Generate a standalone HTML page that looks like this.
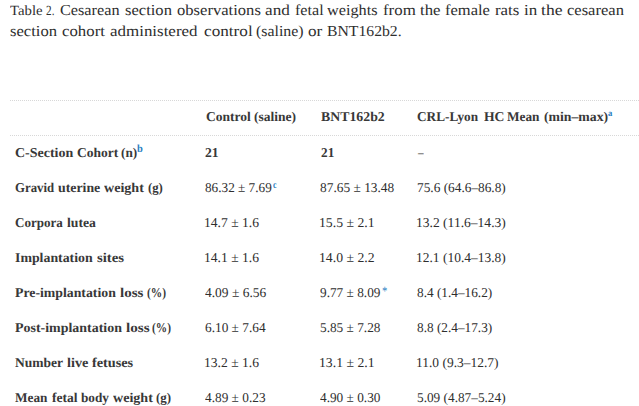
<!DOCTYPE html>
<html><head><meta charset="utf-8"><title>Table 2</title>
<style>
html,body{margin:0;padding:0;background:#fff;}
body{width:639px;height:406px;overflow:hidden;font-family:"Liberation Serif",serif;color:#2e2e2e;position:relative;}
span{position:absolute;white-space:pre;line-height:20px;transform-origin:0 0;text-rendering:geometricPrecision;}
.bd{position:absolute;left:10px;width:629px;height:0;border-top:1px dotted #d8d8d8;}
</style></head><body>
<div class="bd" style="top:100px"></div>
<div class="bd" style="top:135px"></div>
<span style="left:9.50px;top:2px;font-size:14px;transform:scaleX(1.0561);">Table</span>
<span style="left:45.80px;top:2px;font-size:14px;transform:scaleX(0.8000);">2</span>
<span style="left:51.90px;top:2px;font-size:14px;transform:scaleX(0.6667);">.</span>
<span style="left:60.10px;top:1px;font-size:15.3px;transform:scaleX(1.0619);">Cesarean</span>
<span style="left:125.00px;top:1px;font-size:15.3px;transform:scaleX(1.0829);">section</span>
<span style="left:176.50px;top:1px;font-size:15.3px;transform:scaleX(1.0844);">observations</span>
<span style="left:265.30px;top:1px;font-size:15.3px;transform:scaleX(1.1231);">and</span>
<span style="left:294.80px;top:1px;font-size:15.3px;transform:scaleX(1.0549);">fetal</span>
<span style="left:327.40px;top:1px;font-size:15.3px;transform:scaleX(1.0623);">weights</span>
<span style="left:383.00px;top:1px;font-size:15.3px;transform:scaleX(1.1027);">from</span>
<span style="left:420.30px;top:1px;font-size:15.3px;transform:scaleX(1.0953);">the</span>
<span style="left:445.40px;top:1px;font-size:15.3px;transform:scaleX(1.0784);">female</span>
<span style="left:494.70px;top:1px;font-size:15.3px;transform:scaleX(1.1024);">rats</span>
<span style="left:523.60px;top:1px;font-size:15.3px;transform:scaleX(1.1102);">in</span>
<span style="left:541.10px;top:1px;font-size:15.3px;transform:scaleX(1.1482);">the</span>
<span style="left:566.70px;top:1px;font-size:15.3px;transform:scaleX(1.0812);">cesarean</span>
<span style="left:9.80px;top:22px;font-size:15.3px;transform:scaleX(1.0874);">section</span>
<span style="left:61.80px;top:22px;font-size:15.3px;transform:scaleX(1.0972);">cohort</span>
<span style="left:110.10px;top:22px;font-size:15.3px;transform:scaleX(1.1076);">administered</span>
<span style="left:203.90px;top:22px;font-size:15.3px;transform:scaleX(1.1235);">control</span>
<span style="left:256.00px;top:22px;font-size:15.3px;transform:scaleX(1.0377);">(saline)</span>
<span style="left:307.70px;top:22px;font-size:15.3px;transform:scaleX(1.1227);">or</span>
<span style="left:327.20px;top:22px;font-size:15.3px;transform:scaleX(1.0273);">BNT162b2.</span>
<span style="left:205.80px;top:107px;font-size:13.5px;transform:scaleX(1.0022);font-weight:bold;color:#383838;">Control</span>
<span style="left:254.30px;top:107px;font-size:13.5px;transform:scaleX(1.0024);font-weight:bold;color:#383838;">(saline)</span>
<span style="left:321.00px;top:107px;font-size:13.5px;transform:scaleX(1.0237);font-weight:bold;color:#383838;">BNT162b2</span>
<span style="left:417.30px;top:107px;font-size:13.5px;transform:scaleX(0.9815);font-weight:bold;color:#383838;">CRL-Lyon</span>
<span style="left:483.50px;top:107px;font-size:13.5px;transform:scaleX(1.0102);font-weight:bold;color:#383838;">HC</span>
<span style="left:507.30px;top:107px;font-size:13.5px;transform:scaleX(0.9855);font-weight:bold;color:#383838;">Mean</span>
<span style="left:543.80px;top:107px;font-size:13.5px;transform:scaleX(1.0177);font-weight:bold;color:#383838;">(min–max)</span>
<span style="left:15.10px;top:143px;font-size:13.5px;transform:scaleX(1.0347);font-weight:bold;color:#383838;">C-Section</span>
<span style="left:77.30px;top:143px;font-size:13.5px;transform:scaleX(1.0012);font-weight:bold;color:#383838;">Cohort</span>
<span style="left:121.20px;top:143px;font-size:13.5px;transform:scaleX(0.9810);font-weight:bold;color:#383838;">(n)</span>
<span style="left:15.10px;top:178px;font-size:13.5px;transform:scaleX(0.9487);font-weight:bold;color:#383838;">Gravid</span>
<span style="left:58.20px;top:178px;font-size:13.5px;transform:scaleX(1.0231);font-weight:bold;color:#383838;">uterine</span>
<span style="left:103.90px;top:178px;font-size:13.5px;transform:scaleX(1.0426);font-weight:bold;color:#383838;">weight</span>
<span style="left:147.80px;top:178px;font-size:13.5px;transform:scaleX(0.9445);font-weight:bold;color:#383838;">(g)</span>
<span style="left:15.10px;top:213px;font-size:13.5px;transform:scaleX(0.9670);font-weight:bold;color:#383838;">Corpora</span>
<span style="left:66.70px;top:213px;font-size:13.5px;transform:scaleX(1.0158);font-weight:bold;color:#383838;">lutea</span>
<span style="left:15.10px;top:248px;font-size:13.5px;transform:scaleX(1.0255);font-weight:bold;color:#383838;">Implantation</span>
<span style="left:96.80px;top:248px;font-size:13.5px;transform:scaleX(1.0942);font-weight:bold;color:#383838;">sites</span>
<span style="left:15.10px;top:283px;font-size:13.5px;transform:scaleX(1.0208);font-weight:bold;color:#383838;">Pre-implantation</span>
<span style="left:119.90px;top:283px;font-size:13.5px;transform:scaleX(1.1130);font-weight:bold;color:#383838;">loss</span>
<span style="left:146.50px;top:283px;font-size:13.5px;transform:scaleX(0.8456);font-weight:bold;color:#383838;">(%)</span>
<span style="left:15.10px;top:318px;font-size:13.5px;transform:scaleX(1.0327);font-weight:bold;color:#383838;">Post-implantation</span>
<span style="left:125.80px;top:318px;font-size:13.5px;transform:scaleX(1.1227);font-weight:bold;color:#383838;">loss</span>
<span style="left:152.40px;top:318px;font-size:13.5px;transform:scaleX(0.8411);font-weight:bold;color:#383838;">(%)</span>
<span style="left:15.10px;top:353px;font-size:13.5px;transform:scaleX(1.0020);font-weight:bold;color:#383838;">Number</span>
<span style="left:67.20px;top:353px;font-size:13.5px;transform:scaleX(1.0518);font-weight:bold;color:#383838;">live</span>
<span style="left:92.00px;top:353px;font-size:13.5px;transform:scaleX(1.0558);font-weight:bold;color:#383838;">fetuses</span>
<span style="left:15.10px;top:388px;font-size:13.5px;transform:scaleX(0.9826);font-weight:bold;color:#383838;">Mean</span>
<span style="left:51.50px;top:388px;font-size:13.5px;transform:scaleX(1.0026);font-weight:bold;color:#383838;">fetal</span>
<span style="left:80.80px;top:388px;font-size:13.5px;transform:scaleX(0.9803);font-weight:bold;color:#383838;">body</span>
<span style="left:112.50px;top:388px;font-size:13.5px;transform:scaleX(1.0426);font-weight:bold;color:#383838;">weight</span>
<span style="left:155.80px;top:388px;font-size:13.5px;transform:scaleX(0.9577);font-weight:bold;color:#383838;">(g)</span>
<span style="left:205.00px;top:143px;font-size:13.5px;transform:scaleX(1.0109);font-weight:bold;color:#383838;">21</span>
<span style="left:204.80px;top:178px;font-size:13.5px;transform:scaleX(0.9794);">86.32 ± 7.69</span>
<span style="left:203.79px;top:213px;font-size:13.5px;transform:scaleX(1.0054);">14.7 ± 1.6</span>
<span style="left:203.79px;top:248px;font-size:13.5px;transform:scaleX(1.0054);">14.1 ± 1.6</span>
<span style="left:204.80px;top:283px;font-size:13.5px;transform:scaleX(0.9974);">4.09 ± 6.56</span>
<span style="left:204.80px;top:318px;font-size:13.5px;transform:scaleX(0.9861);">6.10 ± 7.64</span>
<span style="left:203.79px;top:353px;font-size:13.5px;transform:scaleX(1.0054);">13.2 ± 1.6</span>
<span style="left:204.80px;top:388px;font-size:13.5px;transform:scaleX(0.9861);">4.89 ± 0.23</span>
<span style="left:320.70px;top:143px;font-size:13.5px;transform:scaleX(0.9818);font-weight:bold;color:#383838;">21</span>
<span style="left:320.20px;top:178px;font-size:13.5px;transform:scaleX(0.9912);">87.65 ± 13.48</span>
<span style="left:319.18px;top:213px;font-size:13.5px;transform:scaleX(1.0168);">15.5 ± 2.1</span>
<span style="left:319.18px;top:248px;font-size:13.5px;transform:scaleX(1.0168);">14.0 ± 2.2</span>
<span style="left:320.20px;top:283px;font-size:13.5px;transform:scaleX(0.9844);">9.77 ± 8.09</span>
<span style="left:320.20px;top:318px;font-size:13.5px;transform:scaleX(0.9844);">5.85 ± 7.28</span>
<span style="left:319.18px;top:353px;font-size:13.5px;transform:scaleX(1.0168);">13.1 ± 2.1</span>
<span style="left:320.20px;top:388px;font-size:13.5px;transform:scaleX(0.9844);">4.90 ± 0.30</span>
<span style="left:417.94px;top:143px;font-size:13.5px;transform:scaleX(0.8375);">–</span>
<span style="left:416.90px;top:178px;font-size:13.5px;transform:scaleX(0.9866);">75.6 (64.6–86.8)</span>
<span style="left:415.90px;top:213px;font-size:13.5px;transform:scaleX(1.0035);">13.2 (11.6–14.3)</span>
<span style="left:415.90px;top:248px;font-size:13.5px;transform:scaleX(0.9978);">12.1 (10.4–13.8)</span>
<span style="left:416.90px;top:283px;font-size:13.5px;transform:scaleX(0.9830);">8.4 (1.4–16.2)</span>
<span style="left:416.90px;top:318px;font-size:13.5px;transform:scaleX(0.9830);">8.8 (2.4–17.3)</span>
<span style="left:415.90px;top:353px;font-size:13.5px;transform:scaleX(0.9982);">11.0 (9.3–12.7)</span>
<span style="left:416.90px;top:388px;font-size:13.5px;transform:scaleX(0.9844);">5.09 (4.87–5.24)</span>
<span style="left:137.40px;top:139px;font-size:11px;transform:scaleX(0.9500);font-weight:bold;color:#2a80c2;">b</span>
<span style="left:273.00px;top:176px;font-size:10px;transform:scaleX(0.8000);font-weight:bold;color:#2a80c2;">c</span>
<span style="left:607.90px;top:103px;font-size:9px;transform:scaleX(0.9600);font-weight:bold;color:#2a80c2;">a</span>
<span style="left:382.40px;top:281px;font-size:12.5px;transform:scaleX(0.8667);color:#2a80c2;">*</span>
</body></html>
